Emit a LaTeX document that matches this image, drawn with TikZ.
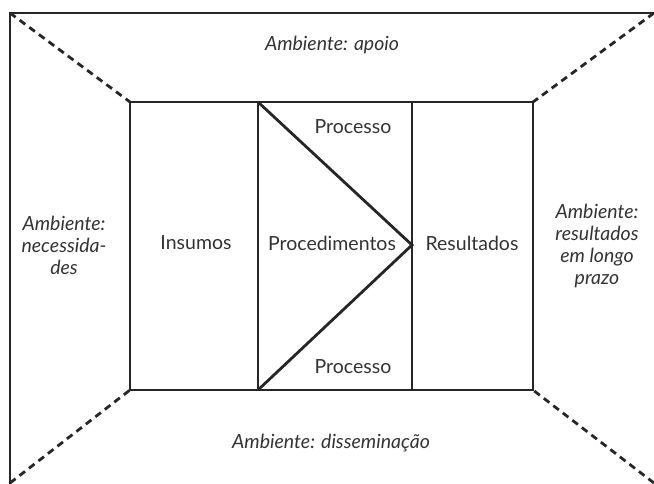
\documentclass[tikz,border=0pt]{standalone}
\usepackage{fontspec}
\setmainfont{Lato}
\begin{document}
\begin{tikzpicture}[x=1pt,y=-1pt,
  solidline/.style={line width=2.8pt, draw=black!85},
  dashline/.style={line width=2.8pt, draw=black!85, dash pattern=on 7pt off 5pt},
  lbl/.style={font=\fontsize{19.5}{22}\selectfont, text=black!80, inner sep=0pt, align=center},
  env/.style={lbl, font=\fontsize{19.5}{22}\selectfont\itshape}]
\useasboundingbox (0,0) rectangle (654,483);
\clip (0,0) rectangle (654,483);
% outer frame
\coordinate (OTL) at (10,13);
\coordinate (OTR) at (666,13);
\coordinate (OBL) at (10,495);
\draw[solidline] (OTR) -- (OTL) -- (OBL);
% inner box
\coordinate (ITL) at (130,102);
\coordinate (ITR) at (533,102);
\coordinate (IBL) at (130,390);
\coordinate (IBR) at (533,390);
\coordinate (D1T) at (258,102);
\coordinate (D1B) at (258,390);
\coordinate (D2T) at (412,102);
\coordinate (D2B) at (412,390);
\coordinate (APX) at (412,245);
\draw[solidline, line join=miter] (ITL) rectangle (IBR);
\draw[solidline] (D1T) -- (D1B);
\draw[solidline] (D2T) -- (D2B);
\draw[solidline] (D1T) -- (APX) -- (D1B);
% dashed corner lines
\coordinate (CTL) at (10,13);
\coordinate (CTR) at (654,13);
\coordinate (CBL) at (10,483);
\coordinate (CBR) at (654,483);
\draw[dashline] (CTL) -- (ITL);
\draw[dashline] (CTR) -- (ITR);
\draw[dashline] (CBL) -- (IBL);
\draw[dashline] (CBR) -- (IBR);
% labels
\node[env] (apoio) at (332,45) {Ambiente: apoio};
\node[env] (diss) at (331,443) {Ambiente: disseminação};
\node[env] (nec) at (64,245) {Ambiente:\\necessida-\\des};
\node[env] (res) at (597,246) {Ambiente:\\resultados\\em longo\\prazo};
\node[lbl] (ins) at (196,243) {Insumos};
\node[lbl] (proc) at (332,243) {Procedimentos};
\node[lbl] (resu) at (472,243) {Resultados};
\node[lbl] (p1) at (353,127) {Processo};
\node[lbl] (p2) at (353,367) {Processo};
\end{tikzpicture}
\end{document}
